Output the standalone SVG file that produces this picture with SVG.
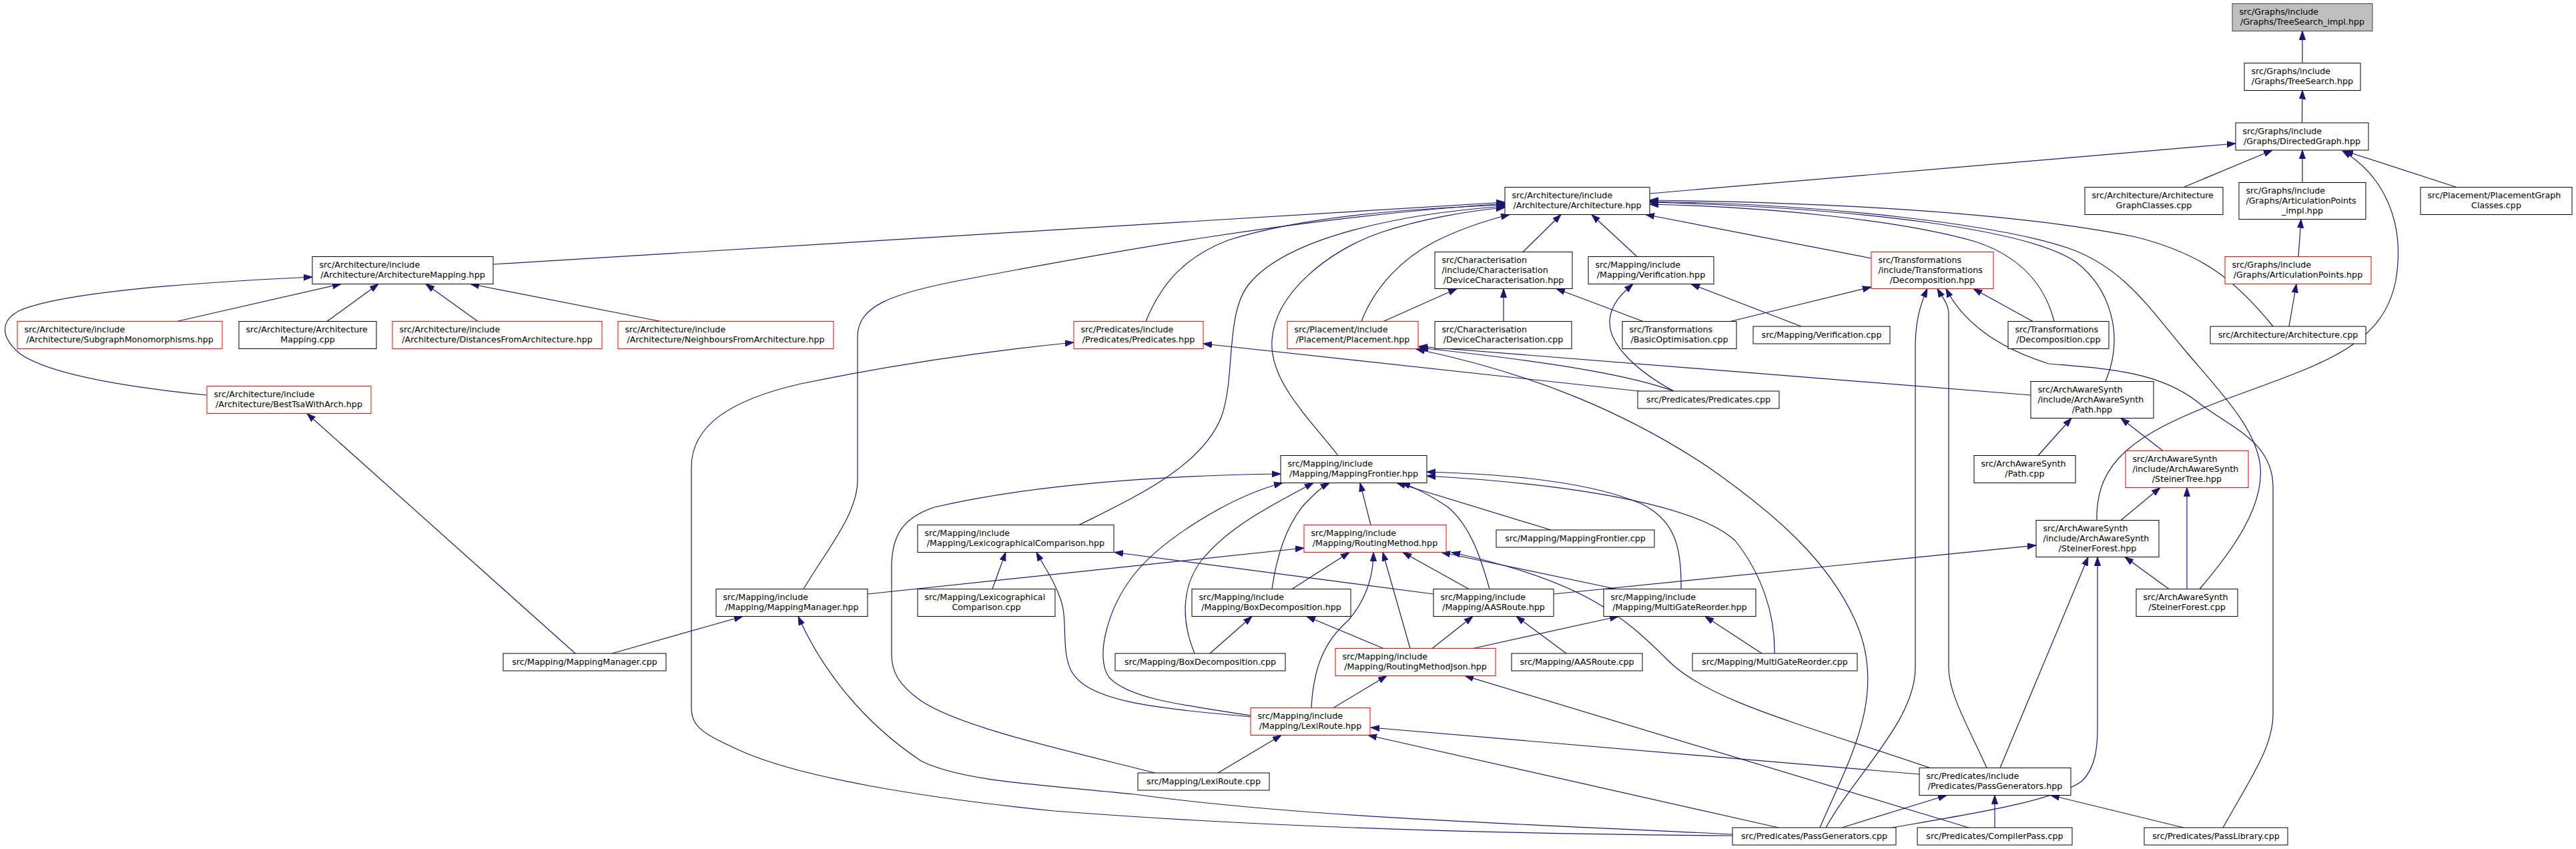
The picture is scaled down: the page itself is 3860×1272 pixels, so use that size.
<svg xmlns="http://www.w3.org/2000/svg" width="3860" height="1272" viewBox="0 0 3860 1272">
<defs>
<marker id="a" markerWidth="14" markerHeight="10" refX="13" refY="5" orient="auto" markerUnits="userSpaceOnUse" viewBox="0 0 14 10"><path d="M0,0.5 L13,5 L0,9.5 z" fill="#191970" stroke="#191970" stroke-width="1"/></marker>
<style>
.node rect{fill:#ffffff;stroke:#000000;stroke-width:1}
.node.red rect{stroke:#ff0000}
.node.gray rect{fill:#bfbfbf;stroke:#404040}
text{font-family:"DejaVu Sans","Liberation Sans",sans-serif;font-size:12.7px;fill:#000000}
text.c{text-anchor:middle}
#edges path{fill:none;stroke:#191970;stroke-width:1.2;marker-end:url(#a)}
</style>
</defs>
<rect width="3860" height="1272" fill="#ffffff"/>
<g id="edges">
<path d="M3450,94.5 L3450,46.5"/>
<path d="M3449.5,184 L3450,135.5"/>
<path d="M2472,290 L3350,215"/>
<path d="M3272,280.5 L3405,225"/>
<path d="M3450,273.5 L3450,225"/>
<path d="M3681,280.5 L3513,226"/>
<path d="M3142,779.5 C3140,690 3200,650 3330,600 C3480,545 3570,520 3590,420 C3605,330 3570,262 3510,226"/>
<path d="M3444,384.5 L3448,328.5"/>
<path d="M3430,489 L3441,425.5"/>
<path d="M3406,489 C3350,420 3300,380 3200,355 C3000,315 2700,303 2472,300"/>
<path d="M3078,481.5 C3065,430 3030,385 2960,362 C2850,330 2650,310 2472,306"/>
<path d="M3155,571.5 C3185,500 3160,430 3110,392 C3040,345 2800,312 2472,303"/>
<path d="M3296,882.5 C3345,825 3392,760 3387,700 C3382,640 3320,580 3270,520 C3220,460 3180,400 3100,372 C3000,338 2750,306 2472,302"/>
<path d="M739,396 L2255,303"/>
<path d="M2282,377.5 L2339,321.5"/>
<path d="M2453,384.5 L2385,321.5"/>
<path d="M2804,387 L2466,321.5"/>
<path d="M1717,481.5 C1740,425 1775,385 1840,360 C1950,325 2100,313 2255,307"/>
<path d="M2040,481.5 C2060,430 2100,388 2150,362 C2190,342 2228,330 2262,321.5"/>
<path d="M2005,682.5 C1960,625 1902,570 1906,510 C1910,440 1990,375 2070,348 C2130,328 2200,316 2255,311"/>
<path d="M1617,786.5 C1700,745 1800,700 1830,625 C1852,565 1835,470 1872,425 C1930,355 2100,320 2255,309"/>
<path d="M1204,882.5 C1238,825 1285,770 1285,720 L1285,505 C1285,460 1330,440 1450,418 C1650,380 1950,325 2255,305"/>
<path d="M265,481.5 L511,425.5"/>
<path d="M490,481.5 L567,425.5"/>
<path d="M716,481.5 L638,425.5"/>
<path d="M990,481.5 L705,425.5"/>
<path d="M310,592 C220,583 80,565 30,530 C0,505 0,480 30,465 C90,440 250,425 468,415"/>
<path d="M862,979 L460,619.5"/>
<path d="M917,979 L1113,923.5"/>
<path d="M2253,481.5 L2253,432.5"/>
<path d="M2073,481.5 L2183,432.5"/>
<path d="M2462,481.5 L2332,432.5"/>
<path d="M2593,481.5 L2804,430"/>
<path d="M2699,489 L2534,425.5"/>
<path d="M2508,586 C2460,560 2410,520 2412,480 C2414,455 2430,440 2447,425.5"/>
<path d="M2508,586 C2450,565 2350,545 2127,521"/>
<path d="M2456,586 L1803,515"/>
<path d="M3043,592 L2126,519"/>
<path d="M2727,1240 C2770,1140 2830,1040 2780,930 C2740,840 2660,770 2560,700 C2440,620 2300,560 2122,523"/>
<path d="M2736,1240 C2780,1160 2870,1080 2870,1000 L2870,520 C2870,480 2878,455 2888,432.5"/>
<path d="M2977,1150.5 C2950,1090 2920,1040 2920,1000 L2920,470 C2920,455 2910,445 2903,432.5"/>
<path d="M3331,1240 C3370,1170 3406,1120 3406,1070 L3406,730 C3406,660 3340,640 3290,600 C3230,555 3150,552 3070,545 C2990,520 2940,480 2916,432.5"/>
<path d="M3046,481.5 L2957,432.5"/>
<path d="M2892,1150.5 C2700,1085 2560,1050 2500,990 C2430,920 2370,870 2175,827.5"/>
<path d="M2876,1160 L2054,1090"/>
<path d="M2665,1240 L2050,1101.5"/>
<path d="M2997,1150.5 L3129,834.5"/>
<path d="M2835,1240 C2950,1220 3080,1200 3120,1170 C3140,1150 3143,1120 3143,1090 L3143,834.5"/>
<path d="M2760,1240 L2917,1191.5"/>
<path d="M2989,1240 L2989,1191.5"/>
<path d="M3272,1240 L3073,1191.5"/>
<path d="M2950,1240 L2195,1012.5"/>
<path d="M1998,1060.5 L2078,1012.5"/>
<path d="M1825,1158 L1920,1101.5"/>
<path d="M1965,1060.5 C1968,1000 1985,960 2020,930 C2050,895 2058,860 2058,827.5"/>
<path d="M2113,971.5 L2072,827.5"/>
<path d="M2054,786.5 L2038,723.5"/>
<path d="M2324,794 L2093,723.5"/>
<path d="M2232,882.5 C2220,840 2205,790 2170,760 C2140,740 2120,730 2100,723.5"/>
<path d="M2519,882.5 C2520,820 2510,780 2460,755 C2380,720 2250,710 2138,707"/>
<path d="M2659,979 C2660,920 2640,860 2600,810 C2540,755 2350,725 2138,713"/>
<path d="M1906,882.5 C1912,840 1925,790 1955,755 C1970,740 1980,730 1992,723.5"/>
<path d="M1790,979 C1770,930 1770,880 1800,840 C1840,790 1900,760 1968,723.5"/>
<path d="M1874,1072 C1760,1055 1690,1045 1662,1015 C1640,985 1660,910 1700,860 C1740,810 1840,745 1922,723.5"/>
<path d="M1874,1074 C1720,1060 1630,1050 1605,1005 C1590,975 1600,930 1590,900 C1580,870 1565,850 1553,827.5"/>
<path d="M1487,882.5 L1507,827.5"/>
<path d="M2148,890 L1670,827.5"/>
<path d="M1731,1158 C1600,1125 1440,1090 1380,1050 C1345,1025 1336,1005 1336,980 L1336,850 C1336,800 1355,775 1400,760 C1550,725 1750,712 1919,710"/>
<path d="M1300,890 L1954,821"/>
<path d="M1936,882.5 L2022,827.5"/>
<path d="M2201,882.5 L2102,827.5"/>
<path d="M2422,882.5 L2160,827.5"/>
<path d="M1813,979 L1876,923.5"/>
<path d="M2073,971.5 L1958,923.5"/>
<path d="M2347,979 L2272,923.5"/>
<path d="M2146,971.5 L2207,923.5"/>
<path d="M2640,979 L2555,923.5"/>
<path d="M2207,971.5 L2425,923.5"/>
<path d="M2328,890 L3051,817"/>
<path d="M3250,882.5 L3184,834.5"/>
<path d="M3277,882.5 L3277,730.5"/>
<path d="M3178,779.5 L3237,730.5"/>
<path d="M3054,682.5 L3104,626.5"/>
<path d="M3241,675.5 L3178,626.5"/>
<path d="M2596,1252 C2300,1250 1930,1242 1580,1215 C1380,1195 1200,1165 1110,1125 C1055,1100 1036,1090 1036,1060 L1036,700 C1036,640 1090,600 1200,575 C1330,548 1470,527 1609,513"/>
<path d="M2596,1250 C2300,1235 1950,1225 1700,1190 C1550,1175 1440,1170 1380,1140 C1290,1080 1230,1000 1196,923.5"/>
</g>
<g id="tsi" class="node gray"><rect x="3345" y="5.5" width="210" height="41"/><text x="3355.5" y="22">src/Graphs/include</text><text class="c" x="3450" y="37">/Graphs/TreeSearch_impl.hpp</text></g>
<g id="ts" class="node"><rect x="3363" y="94.5" width="174" height="41"/><text x="3373.5" y="111">src/Graphs/include</text><text class="c" x="3450" y="126">/Graphs/TreeSearch.hpp</text></g>
<g id="dg" class="node"><rect x="3350" y="184" width="199" height="41"/><text x="3360.5" y="200.5">src/Graphs/include</text><text class="c" x="3449.5" y="215.5">/Graphs/DirectedGraph.hpp</text></g>
<g id="agc" class="node"><rect x="3124" y="280.5" width="207" height="41"/><text x="3134.5" y="297">src/Architecture/Architecture</text><text class="c" x="3227.5" y="312">GraphClasses.cpp</text></g>
<g id="api" class="node"><rect x="3355" y="273.5" width="190" height="55"/><text x="3365.5" y="289.5">src/Graphs/include</text><text x="3365.5" y="304.5">/Graphs/ArticulationPoints</text><text class="c" x="3450" y="319.5">_impl.hpp</text></g>
<g id="pgc" class="node"><rect x="3627" y="280.5" width="227" height="41"/><text x="3637.5" y="297">src/Placement/PlacementGraph</text><text class="c" x="3740.5" y="312">Classes.cpp</text></g>
<g id="arch" class="node"><rect x="2255" y="280.5" width="217" height="41"/><text x="2265.5" y="297">src/Architecture/include</text><text class="c" x="2363.5" y="312">/Architecture/Architecture.hpp</text></g>
<g id="ap" class="node red"><rect x="3334" y="384.5" width="219" height="41"/><text x="3344.5" y="401">src/Graphs/include</text><text class="c" x="3443.5" y="416">/Graphs/ArticulationPoints.hpp</text></g>
<g id="dch" class="node"><rect x="2150" y="377.5" width="206" height="55"/><text x="2160.5" y="393.5">src/Characterisation</text><text x="2160.5" y="408.5">/include/Characterisation</text><text class="c" x="2253" y="423.5">/DeviceCharacterisation.hpp</text></g>
<g id="verh" class="node"><rect x="2380" y="384.5" width="188" height="41"/><text x="2390.5" y="401">src/Mapping/include</text><text class="c" x="2474" y="416">/Mapping/Verification.hpp</text></g>
<g id="dech" class="node red"><rect x="2804" y="377.5" width="183" height="55"/><text x="2814.5" y="393.5">src/Transformations</text><text x="2814.5" y="408.5">/include/Transformations</text><text class="c" x="2895.5" y="423.5">/Decomposition.hpp</text></g>
<g id="amh" class="node"><rect x="468" y="384.5" width="271" height="41"/><text x="478.5" y="401">src/Architecture/include</text><text class="c" x="603.5" y="416">/Architecture/ArchitectureMapping.hpp</text></g>
<g id="smh" class="node red"><rect x="26" y="481.5" width="307" height="41"/><text x="36.5" y="498">src/Architecture/include</text><text class="c" x="179.5" y="513">/Architecture/SubgraphMonomorphisms.hpp</text></g>
<g id="amc" class="node"><rect x="358" y="481.5" width="206" height="41"/><text x="368.5" y="498">src/Architecture/Architecture</text><text class="c" x="461" y="513">Mapping.cpp</text></g>
<g id="dfa" class="node red"><rect x="588" y="481.5" width="314" height="41"/><text x="598.5" y="498">src/Architecture/include</text><text class="c" x="745" y="513">/Architecture/DistancesFromArchitecture.hpp</text></g>
<g id="nfa" class="node red"><rect x="926" y="481.5" width="323" height="41"/><text x="936.5" y="498">src/Architecture/include</text><text class="c" x="1087.5" y="513">/Architecture/NeighboursFromArchitecture.hpp</text></g>
<g id="predh" class="node red"><rect x="1609" y="481.5" width="194" height="41"/><text x="1619.5" y="498">src/Predicates/include</text><text class="c" x="1706" y="513">/Predicates/Predicates.hpp</text></g>
<g id="plh" class="node red"><rect x="1929" y="481.5" width="196" height="41"/><text x="1939.5" y="498">src/Placement/include</text><text class="c" x="2027" y="513">/Placement/Placement.hpp</text></g>
<g id="dcc" class="node"><rect x="2150" y="481.5" width="205" height="41"/><text x="2160.5" y="498">src/Characterisation</text><text class="c" x="2252.5" y="513">/DeviceCharacterisation.cpp</text></g>
<g id="boc" class="node"><rect x="2431" y="481.5" width="171" height="41"/><text x="2441.5" y="498">src/Transformations</text><text class="c" x="2516.5" y="513">/BasicOptimisation.cpp</text></g>
<g id="verc" class="node"><rect x="2627" y="489" width="205" height="26"/><text class="c" x="2729.5" y="505.5">src/Mapping/Verification.cpp</text></g>
<g id="decc" class="node"><rect x="3009" y="481.5" width="151" height="41"/><text x="3019.5" y="498">src/Transformations</text><text class="c" x="3084.5" y="513">/Decomposition.cpp</text></g>
<g id="archc" class="node"><rect x="3312" y="489" width="233" height="26"/><text class="c" x="3428.5" y="505.5">src/Architecture/Architecture.cpp</text></g>
<g id="bta" class="node red"><rect x="310" y="578.5" width="246" height="41"/><text x="320.5" y="595">src/Architecture/include</text><text class="c" x="433" y="610">/Architecture/BestTsaWithArch.hpp</text></g>
<g id="predc" class="node"><rect x="2454" y="586" width="212" height="26"/><text class="c" x="2560" y="602.5">src/Predicates/Predicates.cpp</text></g>
<g id="pathh" class="node"><rect x="3043" y="571.5" width="184" height="55"/><text x="3053.5" y="587.5">src/ArchAwareSynth</text><text x="3053.5" y="602.5">/include/ArchAwareSynth</text><text class="c" x="3135" y="617.5">/Path.hpp</text></g>
<g id="mfh" class="node"><rect x="1919" y="682.5" width="219" height="41"/><text x="1929.5" y="699">src/Mapping/include</text><text class="c" x="2028.5" y="714">/Mapping/MappingFrontier.hpp</text></g>
<g id="pathc" class="node"><rect x="2958" y="682.5" width="152" height="41"/><text x="2968.5" y="699">src/ArchAwareSynth</text><text class="c" x="3034" y="714">/Path.cpp</text></g>
<g id="sth" class="node red"><rect x="3185" y="675.5" width="184" height="55"/><text x="3195.5" y="691.5">src/ArchAwareSynth</text><text x="3195.5" y="706.5">/include/ArchAwareSynth</text><text class="c" x="3277" y="721.5">/SteinerTree.hpp</text></g>
<g id="lch" class="node"><rect x="1375" y="786.5" width="294" height="41"/><text x="1385.5" y="803">src/Mapping/include</text><text class="c" x="1522" y="818">/Mapping/LexicographicalComparison.hpp</text></g>
<g id="rmh" class="node red"><rect x="1954" y="786.5" width="213" height="41"/><text x="1964.5" y="803">src/Mapping/include</text><text class="c" x="2060.5" y="818">/Mapping/RoutingMethod.hpp</text></g>
<g id="mfc" class="node"><rect x="2242" y="794" width="237" height="26"/><text class="c" x="2360.5" y="810.5">src/Mapping/MappingFrontier.cpp</text></g>
<g id="sfh" class="node"><rect x="3051" y="779.5" width="184" height="55"/><text x="3061.5" y="795.5">src/ArchAwareSynth</text><text x="3061.5" y="810.5">/include/ArchAwareSynth</text><text class="c" x="3143" y="825.5">/SteinerForest.hpp</text></g>
<g id="mmh" class="node"><rect x="1073" y="882.5" width="227" height="41"/><text x="1083.5" y="899">src/Mapping/include</text><text class="c" x="1186.5" y="914">/Mapping/MappingManager.hpp</text></g>
<g id="lcc" class="node"><rect x="1375" y="882.5" width="206" height="41"/><text x="1385.5" y="899">src/Mapping/Lexicographical</text><text class="c" x="1478" y="914">Comparison.cpp</text></g>
<g id="bdh" class="node"><rect x="1786" y="882.5" width="238" height="41"/><text x="1796.5" y="899">src/Mapping/include</text><text class="c" x="1905" y="914">/Mapping/BoxDecomposition.hpp</text></g>
<g id="aash" class="node"><rect x="2148" y="882.5" width="180" height="41"/><text x="2158.5" y="899">src/Mapping/include</text><text class="c" x="2238" y="914">/Mapping/AASRoute.hpp</text></g>
<g id="mgrh" class="node"><rect x="2403" y="882.5" width="228" height="41"/><text x="2413.5" y="899">src/Mapping/include</text><text class="c" x="2517" y="914">/Mapping/MultiGateReorder.hpp</text></g>
<g id="sfc" class="node"><rect x="3201" y="882.5" width="152" height="41"/><text x="3211.5" y="899">src/ArchAwareSynth</text><text class="c" x="3277" y="914">/SteinerForest.cpp</text></g>
<g id="mmc" class="node"><rect x="754" y="979" width="244" height="26"/><text class="c" x="876" y="995.5">src/Mapping/MappingManager.cpp</text></g>
<g id="bdc" class="node"><rect x="1671" y="979" width="255" height="26"/><text class="c" x="1798.5" y="995.5">src/Mapping/BoxDecomposition.cpp</text></g>
<g id="rmjh" class="node red"><rect x="2001" y="971.5" width="240" height="41"/><text x="2011.5" y="988">src/Mapping/include</text><text class="c" x="2121" y="1003">/Mapping/RoutingMethodJson.hpp</text></g>
<g id="aasc" class="node"><rect x="2265" y="979" width="196" height="26"/><text class="c" x="2363" y="995.5">src/Mapping/AASRoute.cpp</text></g>
<g id="mgrc" class="node"><rect x="2536" y="979" width="247" height="26"/><text class="c" x="2659.5" y="995.5">src/Mapping/MultiGateReorder.cpp</text></g>
<g id="lrh" class="node red"><rect x="1874" y="1060.5" width="179" height="41"/><text x="1884.5" y="1077">src/Mapping/include</text><text class="c" x="1963.5" y="1092">/Mapping/LexiRoute.hpp</text></g>
<g id="lrc" class="node"><rect x="1705" y="1158" width="197" height="26"/><text class="c" x="1803.5" y="1174.5">src/Mapping/LexiRoute.cpp</text></g>
<g id="pgh" class="node"><rect x="2876" y="1150.5" width="227" height="41"/><text x="2886.5" y="1167">src/Predicates/include</text><text class="c" x="2989.5" y="1182">/Predicates/PassGenerators.hpp</text></g>
<g id="pgcpp" class="node"><rect x="2596" y="1240" width="245" height="26"/><text class="c" x="2718.5" y="1256.5">src/Predicates/PassGenerators.cpp</text></g>
<g id="cpc" class="node"><rect x="2873" y="1240" width="232" height="26"/><text class="c" x="2989" y="1256.5">src/Predicates/CompilerPass.cpp</text></g>
<g id="plc" class="node"><rect x="3213" y="1240" width="215" height="26"/><text class="c" x="3320.5" y="1256.5">src/Predicates/PassLibrary.cpp</text></g>
</svg>
